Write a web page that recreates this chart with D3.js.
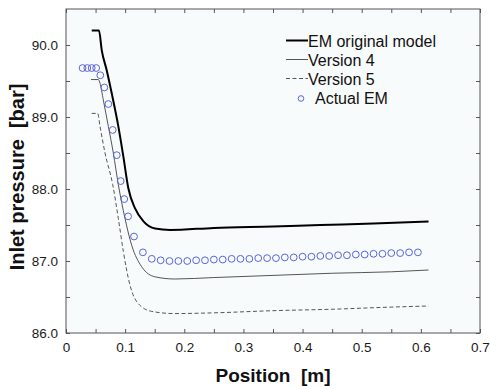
<!DOCTYPE html>
<html><head><meta charset="utf-8">
<script src="https://cdn.jsdelivr.net/npm/d3@7"></script>
<style>
html,body{margin:0;padding:0;background:#fff;}
svg{display:block;font-family:"Liberation Sans",Arial,sans-serif;}
</style></head>
<body><svg id="c" width="490" height="389"></svg>
<script>
// ---- data ----
const xTicks = [0,0.05,0.1,0.15,0.2,0.25,0.3,0.35,0.4,0.45,0.5,0.55,0.6,0.65,0.7];
const xTickLabels = ["0","","0.1","","0.2","","0.3","","0.4","","0.5","","0.6","","0.7"];
const yTicks = [86.0,86.5,87.0,87.5,88.0,88.5,89.0,89.5,90.0];
const yTickLabels = ["86.0","","87.0","","88.0","","89.0","","90.0"];

const seriesNames = ["EM original model","Version 4","Version 5","Actual EM"];

const emX = [0.0435,0.0558,0.0604,0.0688,0.0773,0.0885,0.097,0.1054,0.1168,0.131,0.1506,0.176,0.25,0.35,0.43,0.52,0.613];
const emY = [90.20,90.20,89.93,89.65,89.33,88.87,88.45,88.01,87.73,87.55,87.45,87.43,87.46,87.48,87.50,87.52,87.55];

const v4X = [0.0423,0.0547,0.0575,0.063,0.0716,0.080,0.0885,0.0998,0.111,0.128,0.1506,0.184,0.25,0.35,0.45,0.55,0.613];
const v4Y = [89.52,89.52,89.47,89.24,88.87,88.50,88.06,87.59,87.22,86.92,86.78,86.75,86.77,86.80,86.83,86.85,86.875];

const v5X = [0.0435,0.0536,0.0575,0.066,0.079,0.0885,0.097,0.108,0.122,0.145,0.184,0.25,0.35,0.45,0.55,0.613];
const v5Y = [89.05,89.05,88.87,88.50,88.06,87.59,87.13,86.67,86.41,86.30,86.27,86.28,86.31,86.33,86.36,86.375];

const actX = [0.028,0.036,0.0435,0.051,0.058,0.0648,0.0716,0.079,0.0858,0.0925,0.0985,0.105,0.115,0.13,0.145,0.16,0.175,0.19,0.205,0.22,0.235,0.25,0.265,0.28,0.295,0.31,0.325,0.34,0.355,0.37,0.385,0.40,0.415,0.43,0.445,0.46,0.475,0.49,0.505,0.52,0.535,0.55,0.565,0.58,0.595];
const actY = [89.68,89.68,89.68,89.68,89.58,89.41,89.18,88.82,88.47,88.11,87.86,87.62,87.34,87.12,87.03,87.01,87.00,87.00,87.00,87.01,87.01,87.02,87.02,87.03,87.03,87.03,87.04,87.04,87.04,87.05,87.05,87.06,87.06,87.07,87.07,87.08,87.08,87.09,87.09,87.10,87.10,87.11,87.11,87.12,87.12];

// ---- layout ----
const L = 66, R = 480, T = 9, B = 333;
const svg = d3.select("#c");
const x = d3.scaleLinear().domain([0,0.7]).range([L,R]);
const y = d3.scaleLinear().domain([86,90.5]).range([B,T]);
const axisCol = "#555";

svg.append("rect").attr("x",L).attr("y",T).attr("width",R-L).attr("height",B-T)
  .attr("fill","#f8fbfc");

function styleAxis(g){
  g.select(".domain").remove();
  g.selectAll(".tick line").attr("stroke",axisCol).attr("stroke-width",1);
  g.selectAll(".tick text").attr("fill","#1a1a1a").attr("font-size",13.5)
   .attr("font-family","'Liberation Sans',Arial,sans-serif");
}
const xLab = d => xTickLabels[xTicks.indexOf(d)];
const yLab = d => yTickLabels[yTicks.indexOf(d)];

svg.append("g").attr("transform",`translate(0,${B})`)
  .call(d3.axisBottom(x).tickValues(xTicks).tickFormat(xLab).tickSizeInner(-4).tickSizeOuter(0).tickPadding(9))
  .call(styleAxis);
svg.append("g").attr("transform",`translate(0,${T})`)
  .call(d3.axisTop(x).tickValues(xTicks).tickFormat("").tickSizeInner(-4).tickSizeOuter(0))
  .call(styleAxis);
svg.append("g").attr("transform",`translate(${L},0)`)
  .call(d3.axisLeft(y).tickValues(yTicks).tickFormat(yLab).tickSizeInner(-4).tickSizeOuter(0).tickPadding(8))
  .call(styleAxis);
svg.append("g").attr("transform",`translate(${R},0)`)
  .call(d3.axisRight(y).tickValues(yTicks).tickFormat("").tickSizeInner(-4).tickSizeOuter(0))
  .call(styleAxis);

svg.append("rect").attr("x",L).attr("y",T).attr("width",R-L).attr("height",B-T)
  .attr("fill","none").attr("stroke",axisCol).attr("stroke-width",1);

// ---- series ----
const line = d3.line().x(d=>x(d[0])).y(d=>y(d[1])).curve(d3.curveMonotoneX);
const zip = (a,b)=>a.map((v,i)=>[v,b[i]]);

svg.append("path").datum(zip(v5X,v5Y)).attr("d",line)
  .attr("fill","none").attr("stroke","#555").attr("stroke-width",1).attr("stroke-dasharray","4,2.5");
svg.append("path").datum(zip(v4X,v4Y)).attr("d",line)
  .attr("fill","none").attr("stroke","#555").attr("stroke-width",1);
svg.append("path").datum(zip(emX,emY)).attr("d",line)
  .attr("fill","none").attr("stroke","#000").attr("stroke-width",2);

svg.append("g").selectAll("circle").data(zip(actX,actY)).join("circle")
  .attr("cx",d=>x(d[0])).attr("cy",d=>y(d[1])).attr("r",3.4)
  .attr("fill","none").attr("stroke","#5a64d8").attr("stroke-width",1);

// ---- legend ----
const leg = svg.append("g");
const rows = [46.5,65.5,84.5,104];
const lx1 = 286, lx2 = 308;
leg.append("line").attr("x1",lx1).attr("x2",lx2).attr("y1",rows[0]-6).attr("y2",rows[0]-6)
  .attr("stroke","#000").attr("stroke-width",2);
leg.append("line").attr("x1",lx1).attr("x2",lx2).attr("y1",rows[1]-6).attr("y2",rows[1]-6)
  .attr("stroke","#555").attr("stroke-width",1);
leg.append("line").attr("x1",lx1).attr("x2",lx2).attr("y1",rows[2]-6).attr("y2",rows[2]-6)
  .attr("stroke","#555").attr("stroke-width",1).attr("stroke-dasharray","4,2.5");
leg.append("circle").attr("cx",301).attr("cy",rows[3]-5.5).attr("r",2.8)
  .attr("fill","none").attr("stroke","#5a64d8").attr("stroke-width",1);
seriesNames.forEach((n,i)=>{
  leg.append("text").attr("x", i===3 ? 315 : 308).attr("y",rows[i])
    .attr("font-size",16).attr("fill","#111").text(n);
});

// ---- axis titles ----
svg.append("text").attr("x",(L+R)/2).attr("y",382).attr("text-anchor","middle")
  .attr("font-size",19).attr("font-weight","bold").attr("fill","#111")
  .style("white-space","pre").text("Position  [m]");
svg.append("text").attr("transform","translate(24,177) rotate(-90)").attr("text-anchor","middle")
  .attr("font-size",20).attr("font-weight","bold").attr("fill","#111")
  .style("white-space","pre").text("Inlet pressure  [bar]");
</script></body></html>
